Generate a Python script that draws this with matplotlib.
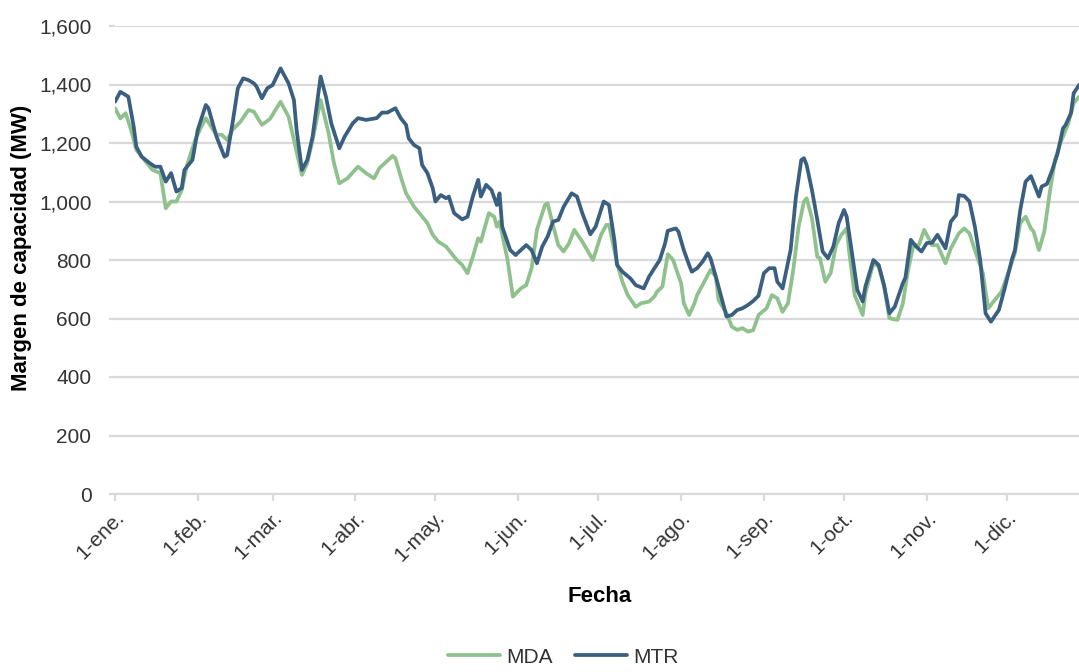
"""Margen de capacidad diario MDA vs MTR"""

import matplotlib
matplotlib.use('Agg')
import matplotlib.pyplot as plt
from matplotlib.ticker import FuncFormatter

# Día del año (0 = 1-ene.) y margen de capacidad (MW)
dias_mda = [0, 2, 4, 6, 8, 11, 14, 17, 19, 21,
            23, 25, 27, 30, 32, 34, 36, 38, 40, 42,
            44, 47, 50, 52, 55, 58, 62, 65, 67, 70,
            72, 74, 77, 80, 82, 84, 87, 91, 94, 97,
            99, 104, 105, 107, 109, 112, 114, 117, 119, 121,
            124, 127, 128, 130, 132, 134, 136, 137, 140, 142,
            143, 144, 147, 149, 152, 154, 156, 158, 161, 162,
            164, 166, 168, 170, 172, 175, 179, 182, 184, 185,
            188, 190, 192, 195, 197, 200, 202, 203, 205, 207,
            209, 212, 213, 215, 217, 218, 220, 223, 225, 226,
            229, 231, 233, 235, 237, 239, 241, 244, 246, 248,
            250, 252, 254, 256, 258, 259, 261, 263, 264, 266,
            268, 270, 272, 274, 275, 277, 280, 281, 284, 286,
            288, 290, 293, 295, 297, 299, 301, 303, 305, 306,
            308, 311, 313, 316, 318, 320, 322, 325, 327, 329,
            332, 334, 337, 339, 341, 343, 344, 346, 348, 350,
            352, 354, 357, 359, 361]
mda = [1319, 1284, 1302, 1245, 1176, 1142, 1108, 1097, 977, 1000,
       1000, 1039, 1125, 1210, 1250, 1285, 1256, 1228, 1228, 1210,
       1245, 1273, 1313, 1307, 1262, 1282, 1341, 1290, 1210, 1091,
       1131, 1210, 1347, 1233, 1131, 1062, 1079, 1119, 1097, 1079,
       1114, 1156, 1148, 1085, 1028, 982, 960, 926, 886, 863,
       846, 811, 800, 783, 755, 811, 874, 863, 960, 948,
       914, 931, 800, 675, 703, 714, 772, 903, 988, 994,
       920, 851, 829, 857, 903, 863, 800, 886, 920, 920,
       789, 726, 680, 640, 652, 658, 675, 692, 709, 820,
       800, 720, 652, 612, 652, 680, 714, 766, 743, 663,
       618, 572, 561, 567, 555, 560, 612, 635, 680, 669,
       623, 652, 766, 914, 1000, 1011, 943, 811, 806, 726,
       755, 851, 886, 908, 823, 680, 612, 686, 789, 777,
       709, 601, 595, 650, 766, 851, 850, 903, 869, 851,
       851, 789, 840, 891, 908, 891, 834, 755, 635, 658,
       692, 743, 823, 926, 948, 908, 897, 834, 897, 1028,
       1142, 1199, 1267, 1336, 1358]

dias_mtr = [0, 2, 4, 5, 7, 8, 10, 13, 15, 17,
            19, 21, 23, 25, 26, 29, 31, 34, 35, 38,
            41, 42, 44, 46, 48, 50, 52, 53, 55, 57,
            59, 62, 65, 67, 68, 70, 72, 74, 77, 79,
            81, 84, 86, 89, 91, 94, 98, 100, 102, 105,
            107, 109, 110, 112, 114, 115, 117, 119, 120, 122,
            124, 125, 127, 130, 132, 134, 136, 137, 139, 141,
            143, 144, 145, 148, 150, 152, 154, 156, 158, 160,
            162, 164, 166, 168, 171, 173, 175, 178, 180, 182,
            183, 185, 187, 188, 190, 193, 195, 198, 200, 202,
            204, 206, 207, 210, 211, 213, 215, 216, 218, 220,
            222, 223, 225, 227, 229, 231, 233, 235, 237, 239,
            241, 243, 245, 247, 248, 250, 253, 255, 257, 258,
            259, 261, 263, 265, 267, 269, 271, 273, 274, 276,
            278, 280, 281, 284, 286, 288, 290, 292, 295, 296,
            298, 300, 302, 304, 306, 308, 311, 313, 315, 316,
            318, 320, 322, 324, 326, 328, 331, 333, 336, 337,
            339, 341, 343, 346, 347, 349, 351, 353, 355, 356,
            358, 359, 361]
mtr = [1341, 1375, 1364, 1358, 1256, 1187, 1153, 1131, 1119, 1119,
       1068, 1097, 1034, 1046, 1108, 1142, 1245, 1330, 1319, 1222,
       1153, 1159, 1267, 1387, 1421, 1415, 1404, 1393, 1353, 1387,
       1398, 1455, 1404, 1347, 1245, 1108, 1142, 1222, 1427, 1358,
       1267, 1182, 1222, 1267, 1285, 1279, 1285, 1304, 1304, 1319,
       1285, 1262, 1216, 1193, 1182, 1125, 1097, 1045, 1000, 1022,
       1011, 1017, 960, 939, 948, 1017, 1074, 1017, 1057, 1039,
       988, 1028, 914, 834, 817, 834, 851, 834, 789, 846,
       880, 931, 937, 982, 1028, 1017, 960, 888, 914, 971,
       1000, 988, 869, 783, 760, 737, 714, 703, 743, 772,
       800, 857, 900, 908, 897, 834, 783, 760, 772, 794,
       823, 806, 743, 675, 607, 612, 629, 635, 646, 660,
       678, 755, 772, 772, 726, 703, 834, 1017, 1142, 1148,
       1125, 1039, 937, 829, 806, 846, 926, 971, 948, 823,
       697, 658, 709, 800, 783, 714, 618, 640, 720, 740,
       869, 846, 829, 858, 859, 886, 840, 931, 954, 1022,
       1019, 1000, 914, 800, 618, 589, 629, 697, 806, 834,
       971, 1068, 1087, 1017, 1051, 1060, 1108, 1165, 1250, 1262,
       1302, 1370, 1398]

meses_dias = [0, 31, 59, 90, 120, 151, 181, 212, 243, 273, 304, 334]
meses = ['1-ene.', '1-feb.', '1-mar.', '1-abr.', '1-may.', '1-jun.',
         '1-jul.', '1-ago.', '1-sep.', '1-oct.', '1-nov.', '1-dic.']
y_ticks = [0, 200, 400, 600, 800, 1000, 1200, 1400, 1600]

if __name__ == '__main__':
    plt.rcParams['font.family'] = ['Liberation Sans Narrow', 'Liberation Sans', 'DejaVu Sans']
    grid_color = '#d9d9d9'
    text_color = '#333333'

    fig = plt.figure(figsize=(10.79, 6.72), dpi=100)
    ax = fig.add_axes([115 / 1079, 1 - 494 / 672, 1 - 115 / 1079, 468 / 672])

    ax.plot(dias_mda, mda, color='#8fc18c', lw=2.7, label='MDA', solid_capstyle='round')
    ax.plot(dias_mtr, mtr, color='#3a5f80', lw=2.7, label='MTR', solid_capstyle='round')

    ax.set_xlim(0, 361)
    ax.set_ylim(0, 1600)
    ax.set_yticks(y_ticks)
    ax.yaxis.set_major_formatter(FuncFormatter(lambda v, p: f'{int(v):,}'))
    ax.set_xticks(meses_dias)
    ax.set_xticklabels(meses, rotation=45, ha='right', va='top', rotation_mode='anchor')

    ax.grid(axis='y', color=grid_color, lw=1.6)
    ax.set_axisbelow(True)
    for side in ['left', 'right', 'top']:
        ax.spines[side].set_visible(False)
    ax.spines['bottom'].set_color(grid_color)
    ax.spines['bottom'].set_linewidth(1.6)

    ax.tick_params(axis='y', length=4, width=1.6, color=grid_color, pad=13,
                   labelsize=15, labelcolor=text_color)
    ax.tick_params(axis='x', length=5, width=1.6, color=grid_color, pad=5,
                   labelsize=15, labelcolor=text_color)

    fig.text(600 / 1079, 1 - 597 / 672, 'Fecha', ha='center', va='center',
             fontsize=16, fontweight='bold', family=['Liberation Sans', 'DejaVu Sans'])
    fig.text(22 / 1079, 1 - 247.5 / 672, 'Margen de capacidad (MW)', rotation=90,
             ha='center', va='center', fontsize=16, fontweight='bold',
             family=['Liberation Sans', 'DejaVu Sans'])

    leg = fig.legend(loc='center', bbox_to_anchor=(0.522, 0.022), ncol=2, frameon=False,
                     fontsize=15, handlelength=2.5, handletextpad=0.3, columnspacing=1.1)
    for t in leg.get_texts():
        t.set_color(text_color)

    fig.savefig('out.png', dpi=100)
